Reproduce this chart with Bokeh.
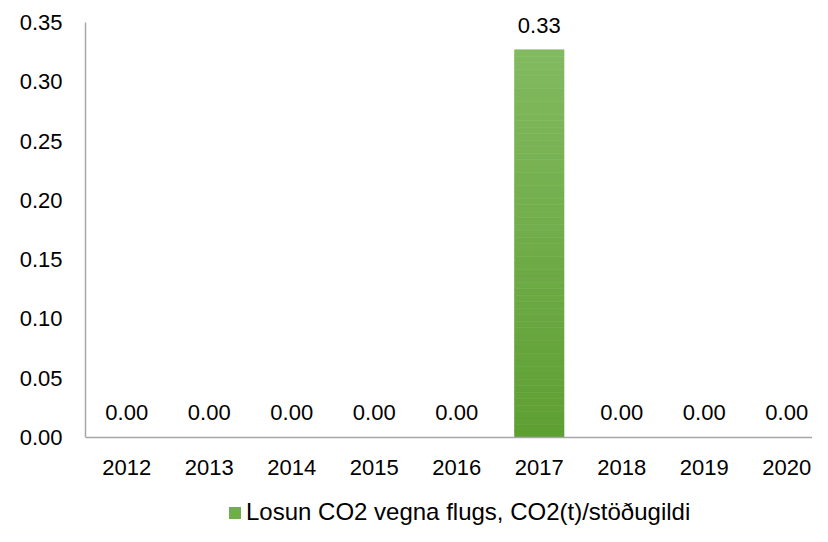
import numpy as np
from bokeh.plotting import figure
from bokeh.models import Range1d, FixedTicker, Legend, LegendItem, ColumnDataSource, NumeralTickFormatter
from bokeh.core.properties import value
from bokeh.embed import file_html
from bokeh.resources import INLINE

years = ["2012", "2013", "2014", "2015", "2016", "2017", "2018", "2019", "2020"]
values = [0.0, 0.0, 0.0, 0.0, 0.0, 0.327, 0.0, 0.0, 0.0]
series_name = "Losun CO2 vegna flugs, CO2(t)/stöðugildi"
y_ticks = [0.0, 0.05, 0.10, 0.15, 0.20, 0.25, 0.30, 0.35]
y_max = 0.35

FONT = "Liberation Sans"
TOP = (130, 186, 96)
BOT = (94, 159, 50)

x = list(range(len(years)))

# frame spans the whole figure (right of the y axis); x axis is pinned at y=0
p = figure(width=812, height=526, output_backend="svg", toolbar_location=None,
           x_range=Range1d(-0.5, 8.312), y_range=Range1d(-0.07506, 0.36855),
           min_border_left=85, min_border_top=0, min_border_right=0, min_border_bottom=0)
p.outline_line_color = None
p.xgrid.visible = False
p.ygrid.visible = False

# gradient bars: stacked slices of each bar
N = 60
xs, bots, tops, cols = [], [], [], []
for xi, v in zip(x, values):
    if v <= 0:
        continue
    edges = np.linspace(0, v, N + 1)
    for k in range(N):
        t = (k + 0.5) / N  # 0 bottom -> 1 top
        c = tuple(int(round(BOT[j] + (TOP[j] - BOT[j]) * t)) for j in range(3))
        xs.append(xi); bots.append(edges[k]); tops.append(edges[k + 1])
        cols.append("#%02x%02x%02x" % c)
src = ColumnDataSource(dict(x=xs, bottom=bots, top=tops, color=cols))
p.vbar(x="x", bottom="bottom", top="top", width=0.6, fill_color="color",
       line_color="color", line_width=0.6, source=src)

# data labels
lbl = ColumnDataSource(dict(x=x, y=values, t=["%.2f" % v for v in values]))
p.text(x="x", y="y", text="t", source=lbl, text_align="center", text_baseline="bottom",
       y_offset=-17, text_font=value(FONT), text_font_size="22px", text_color="#000000")

# axes
p.yaxis.ticker = FixedTicker(ticks=y_ticks)
p.yaxis.bounds = (0, y_max)
p.yaxis.formatter = NumeralTickFormatter(format="0.00")
p.yaxis.major_tick_line_color = None
p.yaxis.minor_tick_line_color = None
p.yaxis.axis_line_color = "#A6A6A6"
p.yaxis.axis_line_width = 1.5
p.yaxis.major_label_text_font = FONT
p.yaxis.major_label_text_font_size = "22px"
p.yaxis.major_label_text_color = "#000000"
p.yaxis.major_label_standoff = 17

p.xaxis.fixed_location = 0
p.xaxis.ticker = FixedTicker(ticks=x)
p.xaxis.major_label_overrides = {i: y for i, y in zip(x, years)}
p.xaxis.major_tick_line_color = None
p.xaxis.minor_tick_line_color = None
p.xaxis.axis_line_color = "#A6A6A6"
p.xaxis.axis_line_width = 1.5
p.xaxis.major_label_text_font = FONT
p.xaxis.major_label_text_font_size = "22px"
p.xaxis.major_label_text_color = "#000000"
p.xaxis.major_label_standoff = 17

# legend (proxy bar renderer with no visible data)
proxy = p.vbar(x=[np.nan], top=[np.nan], width=0.6, fill_color="#70AE48", line_color=None)
legend = Legend(items=[LegendItem(label=series_name, renderers=[proxy])],
                location=(142, 0), orientation="horizontal",
                label_text_font=FONT, label_text_font_size="24px", label_text_color="#000000",
                border_line_color=None, background_fill_alpha=0,
                glyph_width=15, glyph_height=15, label_standoff=4, padding=0, margin=0)
p.add_layout(legend, "center")

open("out.html", "w").write(file_html(p, INLINE))
